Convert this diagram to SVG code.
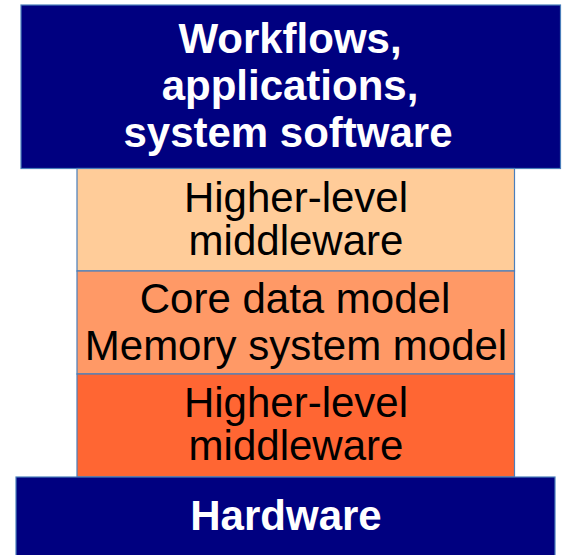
<svg xmlns="http://www.w3.org/2000/svg" width="562" height="555" viewBox="0 0 562 555">
  <style>
    .box { stroke: #4A7EBB; stroke-width: 1.2; }
    .navy { fill: #000080; }
    .peach { fill: #FFCC99; }
    .orange { fill: #FF9966; }
    .red { fill: #FF6633; }
    .lbl { font-family: "Liberation Sans", Arial, sans-serif; font-size: 42px; text-anchor: middle; }
    .light { fill: #FFFFFF; font-weight: bold; }
    .dark { fill: #000000; }
  </style>
  <rect width="562" height="555" fill="#FFFFFF"/>

  <!-- top layer -->
  <g id="workflows">
    <rect class="box navy" x="21" y="5" width="539.5" height="163.5"/>
    <text class="lbl light" x="290" y="53">Workflows,</text>
    <text class="lbl light" x="290" y="100">applications,</text>
    <text class="lbl light" x="288" y="147">system software</text>
  </g>

  <g id="middleware-upper">
    <rect class="box peach" x="77" y="168.5" width="437.5" height="102.5"/>
    <text class="lbl dark" x="296" y="212">Higher-level</text>
    <text class="lbl dark" x="296" y="255">middleware</text>
  </g>

  <g id="core-model">
    <rect class="box orange" x="77" y="271" width="437.5" height="103"/>
    <text class="lbl dark" x="295" y="313">Core data model</text>
    <text class="lbl dark" x="296" y="360">Memory system model</text>
  </g>

  <g id="middleware-lower">
    <rect class="box red" x="77" y="374" width="437.5" height="103"/>
    <text class="lbl dark" x="296" y="417">Higher-level</text>
    <text class="lbl dark" x="296" y="460">middleware</text>
  </g>

  <!-- bottom layer -->
  <g id="hardware">
    <rect class="box navy" x="16" y="477" width="539" height="82"/>
    <text class="lbl light" x="286" y="530">Hardware</text>
  </g>

  <g id="connectors"></g>
</svg>
